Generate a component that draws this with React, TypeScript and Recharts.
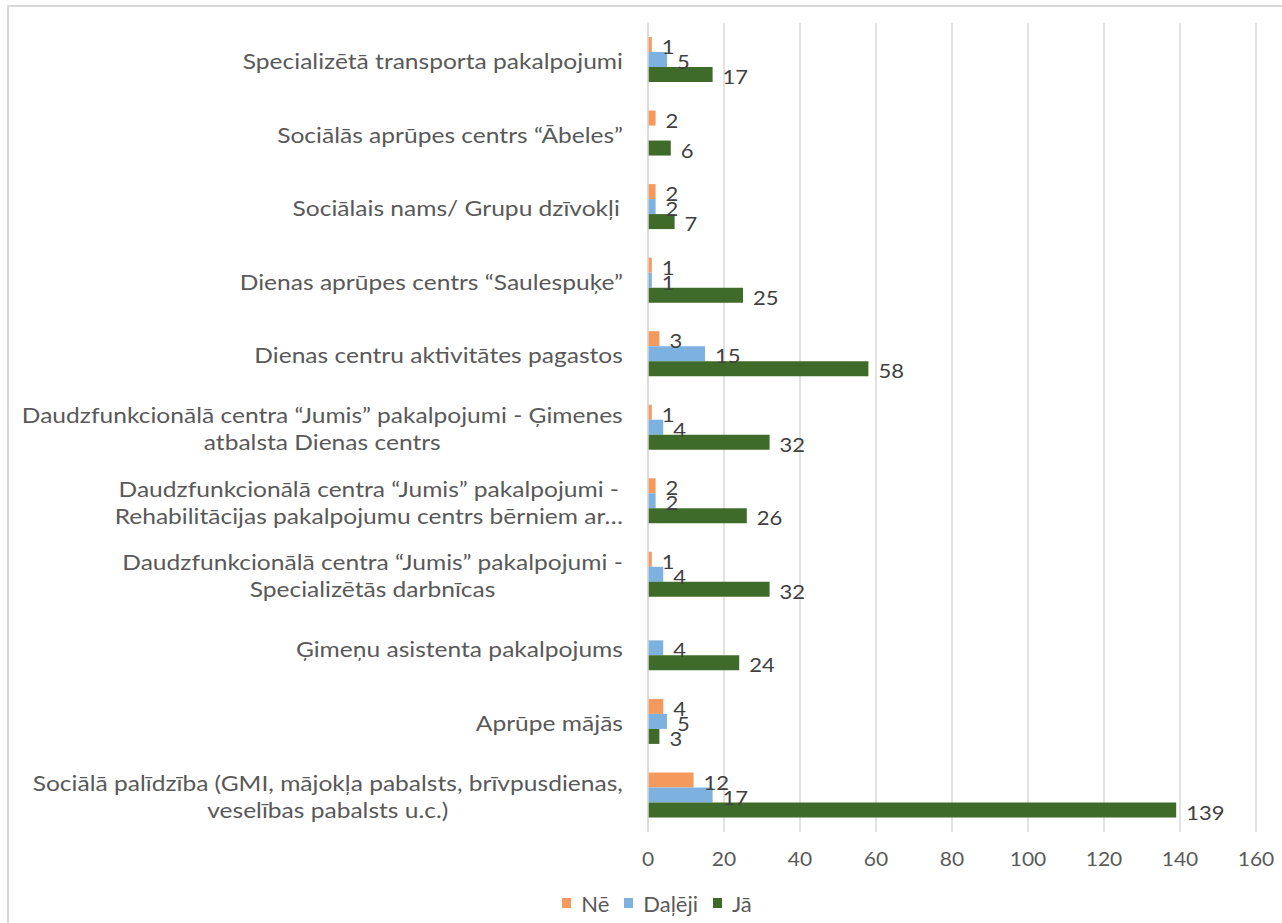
import React from 'react';
import { BarChart, Bar, XAxis, YAxis, CartesianGrid, LabelList, Legend } from 'recharts';

const categories = [
  'Specializētā transporta pakalpojumi',
  'Sociālās aprūpes centrs “Ābeles”',
  'Sociālais nams/ Grupu dzīvokļi ',
  'Dienas aprūpes centrs “Saulespuķe”',
  'Dienas centru aktivitātes pagastos',
  'Daudzfunkcionālā centra “Jumis” pakalpojumi - Ģimenes\natbalsta Dienas centrs',
  'Daudzfunkcionālā centra “Jumis” pakalpojumi -\nRehabilitācijas pakalpojumu centrs bērniem ar…',
  'Daudzfunkcionālā centra “Jumis” pakalpojumi -\nSpecializētās darbnīcas',
  'Ģimeņu asistenta pakalpojums',
  'Aprūpe mājās',
  'Sociālā palīdzība (GMI, mājokļa pabalsts, brīvpusdienas,\nveselības pabalsts u.c.)',
];
const neValues = [1, 2, 2, 1, 3, 1, 2, 1, null, 4, 12];
const dalejiValues = [5, null, 2, 1, 15, 4, 2, 4, 4, 5, 17];
const jaValues = [17, 6, 7, 25, 58, 32, 26, 32, 24, 3, 139];
const xTicks = [0, 20, 40, 60, 80, 100, 120, 140, 160];
const seriesNames = ['Nē', 'Daļēji', 'Jā'];
const seriesColors = ['#F59A5C', '#7DB1E0', '#3F6B2A'];

const data = categories.map((c, i) => ({
  name: c,
  ne: neValues[i],
  daleji: dalejiValues[i],
  ja: jaValues[i],
}));

const FONT = 'Lato, "Open Sans", sans-serif';
const CAT_FS = 21;
const CAT_SX = 1.17;

let ctx: CanvasRenderingContext2D | null = null;
function measure(text: string, size: number): number {
  if (!ctx) {
    const c = document.createElement('canvas');
    ctx = c.getContext('2d');
  }
  if (!ctx) return text.length * size * 0.45;
  ctx.font = `${size}px Lato`;
  return ctx.measureText(text).width;
}

const CategoryTick = (props: any) => {
  const { x, y, payload } = props;
  const lines = String(payload.value).split('\n');
  const w = Math.max(...lines.map((l) => measure(l, CAT_FS))) * CAT_SX;
  const cx = x - w / 2;
  const lh = 27;
  const startY = y - ((lines.length - 1) * lh) / 2 + 1;
  return (
    <g>
      {lines.map((l, i) => (
        <text
          key={i}
          transform={`translate(${cx},${startY + i * lh}) scale(${CAT_SX},1)`}
          x={0}
          y={0}
          textAnchor="middle"
          dominantBaseline="central"
          fill="#595959"
          fontSize={CAT_FS}
          fontFamily={FONT}
        >
          {l}
        </text>
      ))}
    </g>
  );
};

const NumberTick = (props: any) => {
  const { x, y, payload } = props;
  return (
    <text
      transform={`translate(${x},${y}) scale(1.05,1)`}
      x={0}
      y={0}
      textAnchor="middle"
      dominantBaseline="central"
      fill="#595959"
      fontSize={20}
      fontFamily={FONT}
    >
      {payload.value}
    </text>
  );
};

const ValueLabel = (props: any) => {
  const { x, y, width, height, value } = props;
  if (value === null || value === undefined) return null;
  return (
    <text
      transform={`translate(${x + width + 10},${y + height / 2 + 1.5}) scale(1.1,1)`}
      x={0}
      y={0}
      dominantBaseline="central"
      fill="#404040"
      fontSize={20}
      fontFamily={FONT}
    >
      {value}
    </text>
  );
};

const LegendContent = () => (
  <div
    style={{
      height: 30,
      display: 'flex',
      justifyContent: 'center',
      alignItems: 'center',
      fontFamily: FONT,
      fontSize: 22,
      color: '#595959',
      paddingLeft: 58,
      transform: 'translateY(6px)',
    }}
  >
    {seriesNames.map((n, i) => (
      <div key={n} style={{ display: 'flex', alignItems: 'center', marginRight: i < 2 ? 15 : 0 }}>
        <div style={{ width: 9, height: 10, background: seriesColors[i], marginRight: 10 }} />
        <span>{n}</span>
      </div>
    ))}
  </div>
);

export default function App() {
  return (
    <div>
      <div style={{ position: 'fixed', left: 0, top: 0, width: 1282, height: 923, background: '#fff' }}>
        <BarChart
          width={1282}
          height={923}
          data={data}
          layout="vertical"
          margin={{ top: 23, right: 26, left: 0, bottom: 11 }}
          barSize={15}
          barGap={0}
        >
          <CartesianGrid horizontal={false} stroke="#D9D9D9" strokeWidth={1.5} />
          <XAxis
            type="number"
            domain={[0, 160]}
            ticks={xTicks}
            axisLine={false}
            tickLine={false}
            tickSize={0}
            tickMargin={26}
            height={50}
            tick={<NumberTick />}
          />
          <YAxis
            type="category"
            dataKey="name"
            width={648}
            axisLine={{ stroke: '#D9D9D9', strokeWidth: 1.5 }}
            tickLine={false}
            tickSize={0}
            tickMargin={25}
            interval={0}
            tick={<CategoryTick />}
          />
          <Legend verticalAlign="bottom" height={30} content={<LegendContent />} />
          <Bar dataKey="ne" name={seriesNames[0]} fill={seriesColors[0]} isAnimationActive={false}>
            <LabelList dataKey="ne" content={<ValueLabel />} />
          </Bar>
          <Bar dataKey="daleji" name={seriesNames[1]} fill={seriesColors[1]} isAnimationActive={false}>
            <LabelList dataKey="daleji" content={<ValueLabel />} />
          </Bar>
          <Bar dataKey="ja" name={seriesNames[2]} fill={seriesColors[2]} isAnimationActive={false}>
            <LabelList dataKey="ja" content={<ValueLabel />} />
          </Bar>
        </BarChart>
      </div>
      <div
        style={{
          position: 'fixed',
          left: 7,
          top: 5,
          width: 1290,
          height: 940,
          border: '2px solid #D9D9D9',
          pointerEvents: 'none',
        }}
      />
    </div>
  );
}
